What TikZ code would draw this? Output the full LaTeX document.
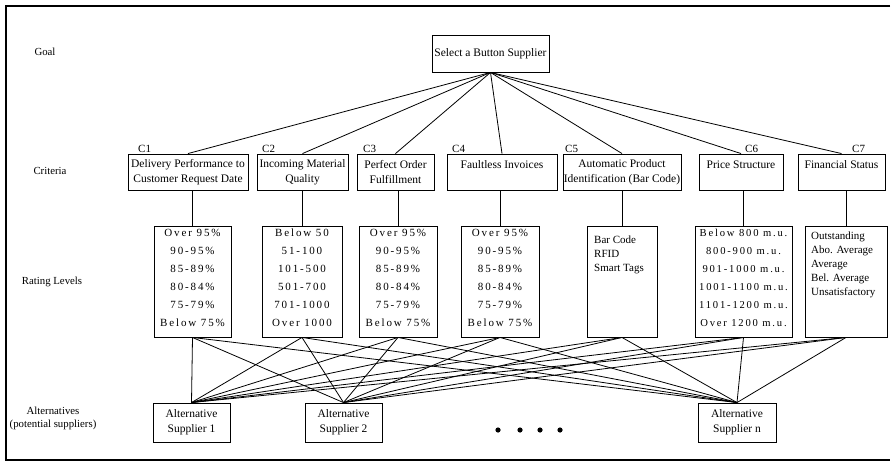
\documentclass[tikz,border=0pt]{standalone}
\usepackage{fontspec}
\setmainfont{Liberation Serif}
\newfontfamily\spacedfont[LetterSpace=17]{Liberation Serif}
\begin{document}
\begin{tikzpicture}[x=1pt,y=-1pt,
  box/.style={draw, line width=0.9pt, inner sep=0pt, fill=white},
  txt/.style={font=\fontsize{11.5}{15}\selectfont, align=center, inner sep=0pt},
  side/.style={font=\fontsize{10.8}{13}\selectfont, align=center, inner sep=0pt},
  lefttxt/.style={font=\fontsize{11}{14}\selectfont, align=left, inner sep=0pt, anchor=west},
  rate/.style={font={\spacedfont\fontsize{11}{18}\selectfont}, align=center, inner sep=0pt},
  clabel/.style={font=\fontsize{11}{12}\selectfont, inner sep=0pt, anchor=south west},
  link/.style={line width=0.8pt},
  frame/.style={line width=1.5pt}]
\useasboundingbox (0,0) rectangle (894,463);
\draw[frame] (890,6) -- (6,6) -- (6,460) -- (890,460);

% level labels
\node[side] (lgoal) at (45,52) {Goal};
\node[side] (lcrit) at (50,171) {Criteria};
\node[side] (lrate) at (52,282) {Rating Levels};
\node[side] (lalt) at (53,418) {Alternatives\\(potential suppliers)};

% goal
\node[box, minimum width=117, minimum height=37] (goal) at (490.5,53.5) {};
\node[txt] (goalt) at (goal.center) {Select a Button Supplier};

% criteria boxes
\node[box, minimum width=120, minimum height=36] (c1) at (188,172) {};
\node[box, minimum width=91,  minimum height=36] (c2) at (302.5,172) {};
\node[box, minimum width=77,  minimum height=36] (c3) at (395.5,172) {};
\node[box, minimum width=110, minimum height=36] (c4) at (502,172) {};
\node[box, minimum width=118, minimum height=36] (c5) at (622,172) {};
\node[box, minimum width=84,  minimum height=36] (c6) at (741,172) {};
\node[box, minimum width=87,  minimum height=36] (c7) at (841.5,172) {};

\node[txt] (c1t) at (c1.center) {Delivery Performance to\\Customer Request Date};
\node[txt] (c2t) at (c2.center) {Incoming Material\\Quality};
\node[txt] (c3t) at (c3.center) {Perfect Order\\Fulfillment};
\node[txt] (c4t) at (502,165) {Faultless Invoices};
\node[txt] (c5t) at (c5.center) {Automatic Product\\Identification (Bar Code)};
\node[txt] (c6t) at (741,165) {Price Structure};
\node[txt] (c7t) at (841.5,165) {Financial Status};

\node[clabel] (c1l) at (138,153) {C1};
\node[clabel] (c2l) at (262,153) {C2};
\node[clabel] (c3l) at (363,153) {C3};
\node[clabel] (c4l) at (452,153) {C4};
\node[clabel] (c5l) at (565,153) {C5};
\node[clabel] (c6l) at (745,153) {C6};
\node[clabel] (c7l) at (852,153) {C7};

% rating boxes
\node[box, minimum width=77, minimum height=111] (r1) at (192.5,281.5) {};
\node[box, minimum width=80, minimum height=111] (r2) at (302,281.5) {};
\node[box, minimum width=78, minimum height=111] (r3) at (398,281.5) {};
\node[box, minimum width=78, minimum height=111] (r4) at (500,281.5) {};
\node[box, minimum width=70, minimum height=111] (r5) at (622,281.5) {};
\node[box, minimum width=97, minimum height=111] (r6) at (743.5,281.5) {};
\node[box, minimum width=82, minimum height=111] (r7) at (846,281.5) {};

\node[rate] (r1t) at (192.5,278) {Over 95\%\\90-95\%\\85-89\%\\80-84\%\\75-79\%\\Below 75\%};
\node[rate] (r2t) at (302,278) {Below 50\\51-100\\101-500\\501-700\\701-1000\\Over 1000};
\node[rate] (r3t) at (398,278) {Over 95\%\\90-95\%\\85-89\%\\80-84\%\\75-79\%\\Below 75\%};
\node[rate] (r4t) at (500,278) {Over 95\%\\90-95\%\\85-89\%\\80-84\%\\75-79\%\\Below 75\%};
\node[lefttxt] (r5t) at (594,255) {Bar Code\\RFID\\Smart Tags};
\node[rate, font={\spacedfont\fontsize{10.6}{18}\selectfont}] (r6t) at (743.5,278) {Below 800 m.u.\\800-900 m.u.\\901-1000 m.u.\\1001-1100 m.u.\\1101-1200 m.u.\\Over 1200 m.u.};
\node[lefttxt] (r7t) at (811,264.5) {Outstanding\\Abo. Average\\Average\\Bel. Average\\Unsatisfactory};

% alternatives
\node[box, minimum width=77, minimum height=39] (a1) at (191.5,422.5) {};
\node[box, minimum width=77, minimum height=39] (a2) at (343.5,422.5) {};
\node[box, minimum width=78, minimum height=39] (an) at (737,422.5) {};
\node[txt] (a1t) at (a1.center) {Alternative\\Supplier 1};
\node[txt] (a2t) at (a2.center) {Alternative\\Supplier 2};
\node[txt] (ant) at (an.center) {Alternative\\Supplier n};

\foreach \p in {498,520,540,560} \fill (\p,430) circle (2.6pt);

% connectors
\foreach \i in {1,...,7} {
  \draw[link] (goal.south) -- (c\i.north);
  \draw[link] (r\i.north |- c\i.south) -- (r\i.north);
  \foreach \a in {a1,a2,an} \draw[link] (r\i.south) -- (\a.north);
}
\end{tikzpicture}
\end{document}
